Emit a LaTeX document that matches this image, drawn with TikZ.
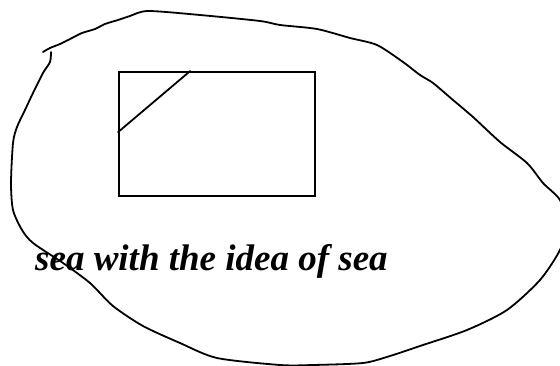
\documentclass[tikz,border=0pt]{standalone}
\usepackage{fontspec}
\setmainfont{Liberation Serif}
\usepackage{tikz}

\begin{document}
\begin{tikzpicture}[
    x=1pt, y=-1pt,
    sketch/.style={draw, line width=1.8pt, line join=round, line cap=round},
    frame/.style={draw, rectangle, line width=1.8pt, minimum width=196pt, minimum height=124pt, inner sep=0pt},
    caption/.style={font=\fontsize{37}{44}\selectfont\bfseries\itshape, inner sep=0pt}
]
    \useasboundingbox (0,0) rectangle (560,366);
    \clip (0,0) rectangle (560,366);

    % --- Sea outline ---
    \draw[sketch] plot[smooth, tension=0.45] coordinates {
        (43,52) (50,48) (60,44) (72,38) (82,33) (95,29) (105,24) (118,20) (130,16) (148,11)
        (200,15) (260,21) (280,25) (317,29) (350,38) (377,45) (403,62) (420,75) (433,83)
        (453,100) (473,117) (500,142) (527,163) (543,183) (560,200) (567,225) (560,250)
        (540,280) (507,310) (467,330) (420,346) (390,356) (363,363) (313,365) (280,365)
        (217,358) (180,343) (143,326) (113,306) (90,283) (63,263) (33,243) (22,230)
        (13,210) (11,183) (13,143) (17,127) (25,110) (33,93) (43,73) (50,62) (51,52)};

    % --- Idea of sea ---
    \node[frame] (idea) at (217,134) {};
    \coordinate (cuttop) at ([xshift=72pt]idea.north west);
    \coordinate (cutleft) at ([yshift=-61pt]idea.north west);
    \draw[sketch] (cuttop) -- (cutleft);

    % --- Caption ---
    \node[caption, anchor=base west] (label) at (35,271) {sea with the idea of sea};

\end{tikzpicture}
\end{document}
